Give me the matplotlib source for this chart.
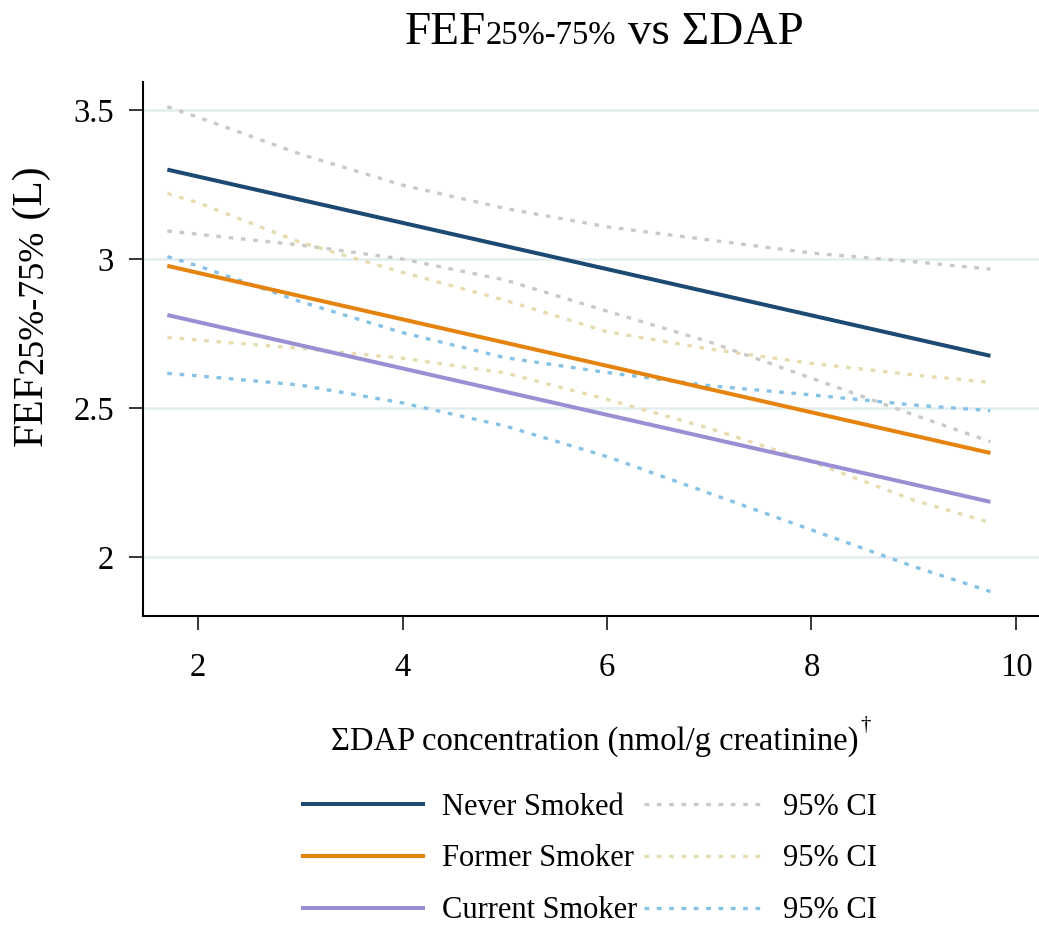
import matplotlib
matplotlib.use("Agg")
import matplotlib.pyplot as plt
from matplotlib.lines import Line2D

plt.rcParams['font.family'] = ['Liberation Serif', 'DejaVu Serif']

# fitted lines (end points)
x_fit = [1.7, 9.75]
never_fit = [3.300, 2.675]
former_fit = [2.977, 2.349]
current_fit = [2.812, 2.185]

# 95% CI bands
x_ci = [1.7, 2, 3, 4, 5, 6, 7, 8, 9, 9.75]
never_hi = [3.511, 3.476, 3.352, 3.248, 3.170, 3.108, 3.064, 3.020, 2.991, 2.966]
never_lo = [3.094, 3.083, 3.047, 3.000, 2.930, 2.825, 2.722, 2.600, 2.477, 2.387]
former_hi = [3.220, 3.189, 3.056, 2.955, 2.862, 2.756, 2.698, 2.650, 2.611, 2.586]
former_lo = [2.737, 2.728, 2.700, 2.667, 2.618, 2.529, 2.432, 2.320, 2.191, 2.115]
current_hi = [3.008, 2.977, 2.857, 2.753, 2.669, 2.619, 2.575, 2.544, 2.510, 2.491]
current_lo = [2.616, 2.608, 2.577, 2.517, 2.440, 2.337, 2.214, 2.091, 1.968, 1.884]

groups = ["Never Smoked", "Former Smoker", "Current Smoker"]
fit_colors = ["#1c4a72", "#e5830f", "#9b8fd3"]
ci_colors = ["#c9c9c9", "#e6dcb0", "#85c2e6"]

x_ticks = [2, 4, 6, 8, 10]
y_ticks = [2, 2.5, 3, 3.5]
y_ticklabels = ["2", "2.5", "3", "3.5"]

W, H = 1039, 931
fig = plt.figure(figsize=(W / 100, H / 100), dpi=100)
ax = fig.add_axes([143 / W, 1 - 616 / H, 1 - 143 / W, (616 - 82) / H])

fits = [never_fit, former_fit, current_fit]
cis = [(never_hi, never_lo), (former_hi, former_lo), (current_hi, current_lo)]
dash = (1.4, 2.3)

for (hi, lo), c in zip(cis, ci_colors):
    ax.plot(x_ci, hi, color=c, lw=2.4, dashes=dash, zorder=2)
    ax.plot(x_ci, lo, color=c, lw=2.4, dashes=dash, zorder=2)
for f, c in zip(fits, fit_colors):
    ax.plot(x_fit, f, color=c, lw=2.9, solid_capstyle='butt', zorder=3)

ax.set_xlim(1.462, 10.225)
ax.set_ylim(1.802, 3.594)
ax.set_xticks(x_ticks)
ax.set_yticks(y_ticks)
ax.set_yticklabels(y_ticklabels)
ax.grid(axis='y', color='#e3edef', lw=1.8, zorder=0)
ax.set_axisbelow(True)
for s in ['top', 'right']:
    ax.spines[s].set_visible(False)
for s in ['left', 'bottom']:
    ax.spines[s].set_linewidth(1.5)
ax.tick_params(axis='both', labelsize=23.5, length=10, width=1.1, colors='black')
ax.tick_params(axis='x', pad=16)
ax.tick_params(axis='y', pad=11)

# legend below the plot, two columns
handles = [Line2D([], [], color=c, lw=2.9) for c in fit_colors]
handles += [Line2D([], [], color=c, lw=2.4, dashes=dash) for c in ci_colors]
labels = groups + ["95% CI"] * 3
fig.legend(handles, labels, ncol=2, loc='center', bbox_to_anchor=(590 / W, 1 - 859 / H),
           frameon=False, fontsize=22, handlelength=3.95, handletextpad=0.62,
           columnspacing=0.2, labelspacing=0.75)

fig.canvas.draw()
renderer = fig.canvas.get_renderer()


def text_width(s, size):
    t1 = fig.text(0, 0, "|" + s + "|", fontsize=size)
    t2 = fig.text(0, 0, "||", fontsize=size)
    w = t1.get_window_extent(renderer).width - t2.get_window_extent(renderer).width
    t1.remove()
    t2.remove()
    return w


def put_pieces(cx, base, pieces, vertical=False):
    # pieces: (text, size); placed one after the other on a shared baseline
    widths = [text_width(s, size) for s, size in pieces]
    pos = cx - sum(widths) / 2
    for (s, size), w in zip(pieces, widths):
        if vertical:
            fig.text(base / W, pos / H, s, fontsize=size,
                     rotation=90, rotation_mode='anchor', ha='left', va='baseline')
        else:
            fig.text(pos / W, base / H, s, fontsize=size, ha='left', va='baseline')
        pos += w


# title
put_pieces(604, H - 44, [("FEF", 34), ("25%-75%", 23.5), (" vs ΣDAP", 34)])
# y label (vertical, reads bottom to top)
put_pieces(H - 306, 42, [("FEF", 30), ("25%-75%", 26), (" (L)", 30)], vertical=True)
# x label with dagger
xl = "ΣDAP concentration (nmol/g creatinine)"
wx = text_width(xl, 23.5)
fig.text((595 - wx / 2) / W, 1 - 750 / H, xl, fontsize=23.5, ha='left', va='baseline')
fig.text((595 + wx / 2 + 2) / W, 1 - 730 / H, "†", fontsize=15, ha='left', va='baseline')

fig.savefig("out.png", dpi=100)
